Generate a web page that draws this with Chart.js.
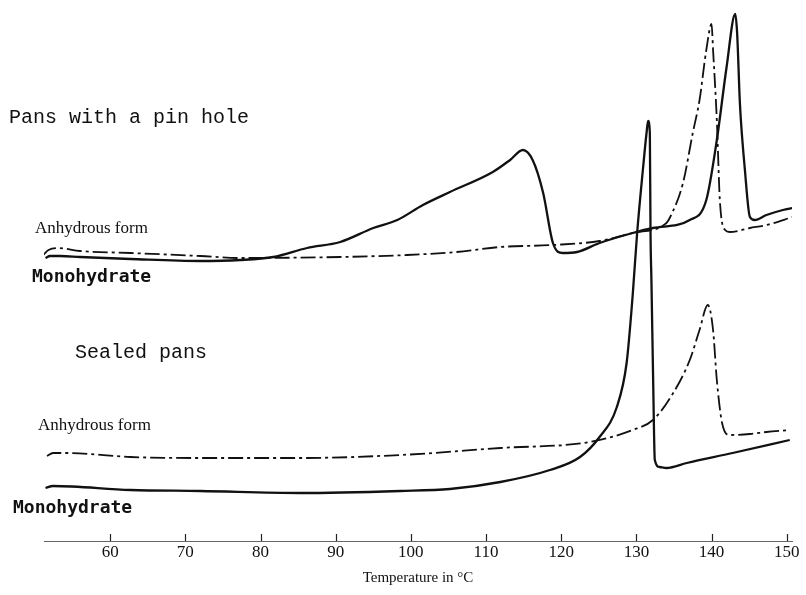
<!DOCTYPE html>
<html lang="en">
<head>
  <meta charset="UTF-8">
  <title>DSC curves - monohydrate and anhydrous form</title>
  <script src="https://cdn.jsdelivr.net/npm/chart.js"></script>
  <style>
    html, body { margin: 0; padding: 0; background: #fff; }
    .wrap { width: 806px; height: 595px; }
  </style>
</head>
<body>
<div class="wrap"><canvas id="dsc" width="806" height="595"></canvas></div>
<script>
// x: temperature in deg C, y: heat flow (arbitrary units)
const tickValues = [60, 70, 80, 90, 100, 110, 120, 130, 140, 150];

// pans with a pin hole - monohydrate (solid)
const pinMonoT = [51.4, 52.0, 53.4, 56.0, 62.7, 72.0, 77.3, 81.7, 86.2, 90.6, 95.0, 98.2, 101.6, 105.2, 110.9, 113.2, 114.9, 116.2, 117.6, 118.9, 120.2, 122.1, 125.1, 129.5, 132.2, 137.1, 139.3, 140.7, 142.0, 143.15, 143.4, 143.75, 143.9, 144.4, 145.1, 145.75, 147.3, 149.5, 150.8];
const pinMonoY = [283, 285, 285, 284, 282, 280, 281, 284, 293, 299, 313, 321, 336, 349, 369, 381, 391, 381, 348, 298, 288, 289, 298, 308, 313, 321, 341, 401, 474, 527, 508, 441, 421, 374, 324, 321, 326, 331, 333];

// pans with a pin hole - anhydrous form (dash-dot)
const pinAnhT = [51.1, 51.8, 53.0, 56.0, 62.7, 72.0, 77.3, 90.6, 99.5, 106.1, 111.9, 118.9, 125.1, 129.5, 134.0, 134.5, 136.2, 137.5, 138.4, 139.3, 140.0, 140.2, 140.7, 141.1, 141.8, 142.4, 145.1, 147.3, 150.8];
const pinAnhY = [286, 291, 293, 290, 288, 285, 283, 284, 286, 289, 294, 296, 300, 308, 318, 324, 358, 408, 441, 491, 517, 491, 421, 341, 311, 309, 313, 316, 324];

// sealed pans - anhydrous form (dash-dot)
const sealAnhT = [51.6, 52.4, 54.3, 62.7, 72.0, 85.3, 98.6, 111.9, 123.8, 129.5, 132.2, 134.9, 137.1, 138.4, 139.5, 140.2, 140.7, 141.4, 142.4, 145.1, 147.3, 150.4];
const sealAnhY = [85, 88, 88, 84, 83, 83, 86, 93, 99, 111, 121, 148, 181, 211, 236, 211, 161, 118, 106, 107, 109, 111];

// sealed pans - monohydrate (solid)
const sealMonoT = [51.4, 52.4, 62.7, 72.0, 85.3, 98.6, 105.2, 111.9, 118.5, 122.5, 125.1, 127.4, 128.7, 129.5, 130.1, 130.9, 131.35, 131.56, 131.79, 131.88, 132.0, 132.23, 132.45, 133.1, 134.0, 136.7, 142.8, 150.4];
const sealMonoY = [53, 55, 51, 50, 48, 50, 52, 59, 71, 84, 104, 134, 178, 245, 308, 374, 408, 420, 408, 308, 261, 161, 81, 74, 73, 78, 88, 101];

const pts = (xs, ys) => xs.map((x, i) => ({ x: x, y: ys[i] }));

const solid = { borderColor: '#111', borderWidth: 2.3, pointRadius: 0, fill: false, cubicInterpolationMode: 'monotone' };
const dashDot = { borderColor: '#111', borderWidth: 1.8, pointRadius: 0, fill: false, cubicInterpolationMode: 'monotone', borderDash: [15, 4, 3, 4] };

// text labels drawn onto the canvas
const labels = [
  { text: 'Pans with a pin hole', x: 9, y: 123, font: '20px "Liberation Mono", monospace' },
  { text: 'Anhydrous form', x: 35, y: 233, font: '17px "Liberation Serif", serif' },
  { text: 'Monohydrate', x: 32, y: 282, font: 'bold 18px "DejaVu Sans Mono", monospace' },
  { text: 'Sealed pans', x: 75, y: 358, font: '20px "Liberation Mono", monospace' },
  { text: 'Anhydrous form', x: 38, y: 430, font: '17px "Liberation Serif", serif' },
  { text: 'Monohydrate', x: 13, y: 513, font: 'bold 18px "DejaVu Sans Mono", monospace' }
];

const textPlugin = {
  id: 'textLabels',
  afterDraw(chart) {
    const ctx = chart.ctx;
    ctx.save();
    ctx.fillStyle = '#111';
    ctx.textBaseline = 'alphabetic';
    labels.forEach(l => {
      ctx.font = l.font;
      ctx.fillText(l.text, l.x, l.y);
    });
    // short tick marks pointing up from the axis line
    const xs = chart.scales.x;
    ctx.strokeStyle = '#222';
    ctx.lineWidth = 1.2;
    xs.ticks.forEach((t, i) => {
      const px = Math.round(xs.getPixelForTick(i)) + 0.5;
      ctx.beginPath();
      ctx.moveTo(px, xs.top);
      ctx.lineTo(px, xs.top - 7);
      ctx.stroke();
    });
    ctx.restore();
  }
};

new Chart(document.getElementById('dsc'), {
  type: 'line',
  data: {
    datasets: [
      Object.assign({ label: 'Pin hole - Monohydrate', data: pts(pinMonoT, pinMonoY) }, solid),
      Object.assign({ label: 'Pin hole - Anhydrous form', data: pts(pinAnhT, pinAnhY) }, dashDot),
      Object.assign({ label: 'Sealed - Anhydrous form', data: pts(sealAnhT, sealAnhY) }, dashDot),
      Object.assign({ label: 'Sealed - Monohydrate', data: pts(sealMonoT, sealMonoY) }, solid)
    ]
  },
  options: {
    responsive: false,
    animation: false,
    layout: { padding: { left: 44, right: 14, top: 0, bottom: 0 } },
    plugins: { legend: { display: false }, tooltip: { enabled: false } },
    scales: {
      x: {
        type: 'linear',
        min: 51.2,
        max: 150.7,
        afterBuildTicks: s => { s.ticks = tickValues.map(v => ({ value: v })); },
        afterFit: s => { s.height = 54; },
        grid: { display: false, drawTicks: false },
        border: { display: true, color: '#666', width: 1 },
        ticks: { color: '#111', padding: 1, maxRotation: 0, font: { family: '"Liberation Serif", serif', size: 17 } },
        title: { display: true, text: 'Temperature in °C', color: '#111', padding: { top: 4, bottom: 8 }, font: { family: '"Liberation Serif", serif', size: 15 } }
      },
      y: { display: false, min: 0, max: 541 }
    }
  },
  plugins: [textPlugin]
});
</script>
</body>
</html>
